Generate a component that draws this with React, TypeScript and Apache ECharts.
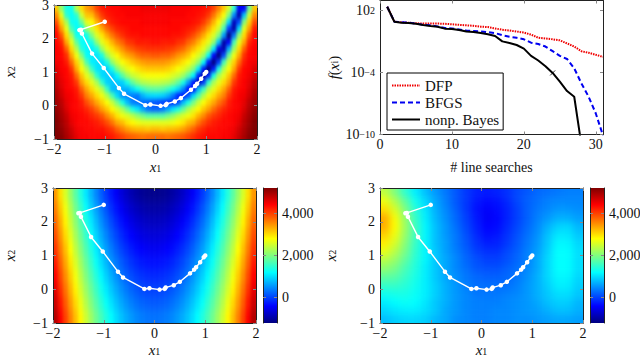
import React, { useEffect, useRef } from "react";
import * as echarts from "echarts";

const FONT = "Liberation Serif";
const jet = ["#00007f","#0000ff","#007fff","#00ffff","#7fff7f","#ffff00","#ff7f00","#ff0000","#7f0000"];

// cell centres of the three colour maps
const xFine = [-1.95,-1.85,-1.75,-1.65,-1.55,-1.45,-1.35,-1.25,-1.15,-1.05,-0.95,-0.85,-0.75,-0.65,-0.55,-0.45,-0.35,-0.25,-0.15,-0.05,0.05,0.15,0.25,0.35,0.45,0.55,0.65,0.75,0.85,0.95,1.05,1.15,1.25,1.35,1.45,1.55,1.65,1.75,1.85,1.95];
const xCoarse = [-1.9,-1.7,-1.5,-1.3,-1.1,-0.9,-0.7,-0.5,-0.3,-0.1,0.1,0.3,0.5,0.7,0.9,1.1,1.3,1.5,1.7,1.9];
const yTop = [-0.9,-0.7,-0.5,-0.3,-0.1,0.1,0.3,0.5,0.7,0.9,1.1,1.3,1.5,1.7,1.9,2.1,2.3,2.5,2.7,2.9];
const yMid = [-0.8,-0.4,0,0.4,0.8,1.2,1.6,2,2.4,2.8];
const yRight = [-0.875,-0.625,-0.375,-0.125,0.125,0.375,0.625,0.875,1.125,1.375,1.625,1.875,2.125,2.375,2.625,2.875];

// top-left: colour level 0..100, rows from y=-1 upward
const topLeft = [
[100,99,96,93,90,88,88,87,87,87,86,85,83,81,79,78,77,76,77,77,77,77,76,77,78,79,81,83,85,86,87,87,87,88,88,90,93,96,99,100],
[100,98,95,92,89,88,87,87,86,86,84,82,78,75,72,70,69,69,68,69,69,68,69,69,70,72,75,78,82,84,86,86,87,87,88,89,92,95,98,100],
[100,97,94,90,88,87,87,86,85,83,80,76,71,69,65,63,61,60,60,60,60,60,60,61,63,65,69,71,76,80,83,85,86,87,87,88,90,94,97,100],
[99,96,93,89,88,87,86,84,82,79,74,70,65,61,59,56,52,49,46,46,46,46,49,52,56,59,61,65,70,74,79,82,84,86,87,88,89,93,96,99],
[98,95,91,88,87,86,84,81,77,72,68,63,59,54,47,40,35,29,24,22,22,24,29,35,40,47,54,59,63,68,72,77,81,84,86,87,88,91,95,98],
[97,94,90,88,87,85,80,76,71,67,62,57,49,40,31,25,24,23,22,21,20,19,18,17,20,31,40,49,57,62,67,71,76,80,85,87,88,90,94,97],
[96,92,89,88,86,82,75,71,66,61,55,45,34,27,26,25,24,30,33,34,34,33,30,24,16,15,21,34,45,55,61,66,71,75,82,86,88,89,92,96],
[95,91,88,87,85,78,71,66,60,55,43,31,30,30,30,34,39,43,46,47,47,46,43,39,34,26,14,12,31,43,55,60,66,71,78,85,87,88,91,95],
[94,90,88,86,82,72,66,60,54,42,33,32,32,33,40,47,52,55,56,57,57,56,55,52,47,40,28,15,5,18,42,54,60,66,72,82,86,88,90,94],
[92,89,87,85,77,68,60,54,42,34,33,32,37,46,53,57,59,61,62,62,62,62,61,59,57,53,46,37,16,3,16,40,54,60,68,77,85,87,89,92],
[91,88,87,82,71,62,55,43,35,34,33,39,50,56,60,62,65,67,68,68,68,68,67,65,62,60,56,50,36,15,0,15,40,55,62,71,82,87,88,91],
[89,88,85,77,67,58,45,36,35,34,40,52,58,62,65,68,70,72,73,73,73,73,72,70,68,65,62,58,52,38,14,0,18,44,58,67,77,85,88,89],
[88,87,83,71,61,50,38,36,35,40,53,59,63,68,71,73,76,78,78,79,79,78,78,76,73,71,68,63,59,53,38,12,0,20,48,61,71,83,87,88],
[88,86,78,66,55,41,37,36,40,53,60,65,69,73,77,79,81,82,83,83,83,83,82,81,79,77,73,69,65,60,53,36,10,5,30,53,66,78,86,88],
[87,84,71,60,47,38,37,40,52,60,65,70,75,78,82,83,85,85,85,86,86,85,85,85,83,82,78,75,70,65,60,52,32,4,12,44,60,71,84,87],
[87,79,66,54,39,38,39,50,59,65,71,76,80,83,85,86,86,87,87,87,87,87,87,86,86,85,83,80,76,71,65,59,50,28,0,24,52,66,79,87],
[85,72,60,44,38,38,52,58,65,71,77,81,84,85,86,87,87,87,87,87,87,87,87,87,87,86,85,84,81,77,71,65,58,44,18,4,34,60,72,85],
[80,67,54,39,38,48,60,63,70,77,82,85,86,87,87,87,87,88,88,88,88,88,88,87,87,87,87,86,85,82,77,70,63,54,34,6,20,50,67,80],
[74,60,42,38,42,58,68,69,76,82,85,86,87,87,88,88,88,88,88,88,88,88,88,88,88,88,87,87,86,85,82,76,69,62,50,26,4,32,58,74],
[68,52,40,39,55,66,72,75,81,85,86,87,87,88,88,88,88,89,89,89,89,89,89,88,88,88,88,87,87,86,85,81,75,68,58,42,12,12,48,68],
];

// bottom-left: values read against the colour bar
const bottomLeft = [
[4883,4427,3995,3587,3203,2843,2507,2195,1907,1643,1403,1187,995,827,683,563,467,395,347,323,323,347,395,467,563,683,827,995,1187,1403,1643,1907,2195,2507,2843,3203,3587,3995,4427,4883],
[4723,4267,3835,3427,3043,2683,2347,2035,1747,1483,1243,1027,835,667,523,403,307,235,187,163,163,187,235,307,403,523,667,835,1027,1243,1483,1747,2035,2347,2683,3043,3427,3835,4267,4723],
[4563,4107,3675,3267,2883,2523,2187,1875,1587,1323,1083,867,675,507,363,243,147,75,27,3,3,27,75,147,243,363,507,675,867,1083,1323,1587,1875,2187,2523,2883,3267,3675,4107,4563],
[4403,3947,3515,3107,2723,2363,2027,1715,1427,1163,923,707,515,347,203,83,-13,-85,-133,-157,-157,-133,-85,-13,83,203,347,515,707,923,1163,1427,1715,2027,2363,2723,3107,3515,3947,4403],
[4243,3787,3355,2947,2563,2203,1867,1555,1267,1003,763,547,355,187,43,-77,-173,-245,-293,-317,-317,-293,-245,-173,-77,43,187,355,547,763,1003,1267,1555,1867,2203,2563,2947,3355,3787,4243],
[4083,3627,3195,2787,2403,2043,1707,1395,1107,843,603,387,195,27,-117,-237,-333,-405,-453,-477,-477,-453,-405,-333,-237,-117,27,195,387,603,843,1107,1395,1707,2043,2403,2787,3195,3627,4083],
[3923,3467,3035,2627,2243,1883,1547,1235,947,683,443,227,35,-133,-277,-397,-493,-565,-613,-637,-637,-613,-565,-493,-397,-277,-133,35,227,443,683,947,1235,1547,1883,2243,2627,3035,3467,3923],
[3763,3307,2875,2467,2083,1723,1387,1075,787,523,283,67,-125,-293,-437,-557,-653,-725,-773,-797,-797,-773,-725,-653,-557,-437,-293,-125,67,283,523,787,1075,1387,1723,2083,2467,2875,3307,3763],
[3603,3147,2715,2307,1923,1563,1227,915,627,363,123,-93,-285,-453,-597,-717,-813,-885,-933,-957,-957,-933,-885,-813,-717,-597,-453,-285,-93,123,363,627,915,1227,1563,1923,2307,2715,3147,3603],
[3443,2987,2555,2147,1763,1403,1067,755,467,203,-37,-253,-445,-613,-757,-877,-973,-1045,-1093,-1117,-1117,-1093,-1045,-973,-877,-757,-613,-445,-253,-37,203,467,755,1067,1403,1763,2147,2555,2987,3443],
];

// bottom-right: estimate
const bottomRight = [
[800,900,950,950,900,750,650,500,450,400,400,450,450,500,500,550,600,650,650,600],
[950,1050,1100,1100,1000,850,650,550,450,400,400,450,450,500,550,600,700,800,800,700],
[1100,1200,1250,1200,1050,850,700,550,450,400,400,400,450,500,550,650,800,900,900,750],
[1300,1350,1350,1250,1100,900,700,550,450,350,350,350,400,450,550,700,850,1000,1000,850],
[1550,1550,1450,1300,1100,900,700,550,400,300,300,300,300,400,550,700,900,1100,1100,900],
[1800,1750,1550,1350,1100,850,650,500,350,250,200,200,250,350,500,700,950,1150,1150,950],
[2100,1950,1650,1400,1100,850,650,450,300,150,100,100,200,300,450,650,950,1200,1200,1000],
[2350,2150,1800,1450,1150,850,650,450,250,100,0,0,100,250,400,650,950,1200,1200,1000],
[2650,2350,1950,1500,1150,850,600,400,200,0,-100,-100,50,200,400,600,900,1200,1200,1000],
[2900,2550,2050,1550,1150,800,600,350,150,-80,-220,-200,-50,150,350,550,850,1150,1150,950],
[3100,2700,2150,1600,1150,800,550,350,100,-150,-320,-280,-100,100,300,500,800,1050,1050,850],
[3300,2800,2200,1600,1150,800,550,300,50,-200,-400,-350,-150,50,250,450,700,900,950,750],
[3300,2750,2150,1550,1100,750,500,250,0,-250,-450,-380,-200,0,200,400,550,700,700,600],
[3000,2550,2000,1450,1050,700,450,200,-50,-300,-420,-350,-200,0,200,350,450,550,550,500],
[2700,2300,1800,1300,950,650,400,150,-50,-250,-350,-300,-150,50,200,300,400,450,450,450],
[2400,2000,1500,1100,800,550,350,150,-50,-200,-250,-200,-100,50,150,250,300,350,400,400],
];

// optimiser path
const pathX = [-1,-1.5,-1.47,-1.45,-1.25,-1.02,-0.72,-0.62,-0.2,-0.1,0.1,0.2,0.22,0.38,0.5,0.7,0.78,0.82,0.9,0.97,1];
const pathY = [2.5,2.25,2.26,2.15,1.55,1.12,0.52,0.35,0.01,0.03,-0.01,0.01,0.05,0.12,0.22,0.47,0.58,0.65,0.8,0.95,1];

// top-right: decades of f(x_i) per line search
const searches = [1,2,3,4,5,6,7,8,9,10,11,12,13,14,15,16,17,18,19,20,21,22,23,24,25,26,27,28,29,30,31];
const dfpExp = [2.35,0.9,0.85,0.8,0.75,0.72,0.72,0.72,0.7,0.65,0.6,0.55,0.5,0.42,0.38,0.25,0.12,0.05,-0.05,-0.15,-0.35,-0.65,-0.72,-0.8,-0.9,-1.2,-1.5,-1.95,-2.1,-2.3,-2.5];
const bfgsExp = [2.35,0.9,0.85,0.8,0.72,0.6,0.55,0.45,0.3,0.25,0.15,0.05,0,-0.05,-0.1,-0.2,-0.4,-0.55,-0.65,-0.8,-1.13,-1.25,-1.5,-1.95,-2.4,-2.7,-3.6,-5.06,-6.35,-7.97,-10.1];
const bayesExp = [2.35,0.9,0.8,0.77,0.7,0.58,0.48,0.42,0.23,0.2,0.1,-0.05,-0.1,-0.2,-0.32,-0.48,-1,-1.16,-1.35,-1.7,-2.4,-2.85,-3.4,-4.05,-4.9,-5.8,-6.35,-11,-11,-11,-11];
const crossAt = [24];
const crossExp = [-4.05];

const spatialTicks = [-2, -1, 0, 1, 2];
const yTicks = [-1, 0, 1, 2, 3];
const searchTicks = [0, 10, 20, 30];
const decadeTicks = [-10, -4, 2];
const barTicks = [0, 2000, 4000];
const barMin = -1198;
const barMax = 5202;

const rich = {
  i: { fontFamily: FONT, fontStyle: "italic", fontSize: 15, lineHeight: 12, color: "#111" },
  s: { fontFamily: FONT, fontSize: 10, lineHeight: 12, color: "#111", verticalAlign: "bottom" },
  n: { fontFamily: FONT, fontSize: 15, lineHeight: 12, color: "#111" },
};
const tickRich = {
  b: { fontFamily: FONT, fontSize: 14, color: "#111" },
  e: { fontFamily: FONT, fontSize: 10, color: "#111", verticalAlign: "top", padding: [0, 0, 5, 0] },
};
const minus = (v: number) => String(v).replace("-", "\u2212");
const tick = { show: true, inside: true, length: 3, lineStyle: { color: "#888", width: 1 } };
const frameLine = { show: true, onZero: false, lineStyle: { color: "#222", width: 1 } };
const label = { fontFamily: FONT, fontSize: 14, lineHeight: 10, color: "#111", margin: 5 };

const PAD = 2;
const SHIFT = 30;
const panels = [
  { id: "heatA", rows: topLeft, xs: xFine, ys: yTop, l: 54, t: 5, w: 203, h: 134, min: 0, max: 100, sx: 1.4, sy: 2.2 },
  { id: "heatB", rows: bottomLeft, xs: xFine, ys: yMid, l: 53, t: 188, w: 203, h: 135, min: barMin, max: barMax, sx: 1.5, sy: 4.5 },
  { id: "heatC", rows: bottomRight, xs: xCoarse, ys: yRight, l: 380, t: 188, w: 203, h: 135, min: barMin, max: barMax, sx: 3.6, sy: 3 },
];

function heatOption(p: (typeof panels)[number]) {
  const cw = p.w / p.xs.length;
  const ch = p.h / p.ys.length;
  const ni = p.xs.length + PAD * 2;
  const nj = p.ys.length + PAD * 2;
  const data: number[][] = [];
  // cells past the panel edge only keep the soft edge from fading; the clip hides them
  for (let j = 0; j < nj; j++) {
    for (let i = 0; i < ni; i++) {
      const cj = Math.min(p.ys.length - 1, Math.max(0, j - PAD));
      const ci = Math.min(p.xs.length - 1, Math.max(0, i - PAD));
      data.push([i, j, p.rows[cj][ci]]);
    }
  }
  const cats = (n: number) => Array.from({ length: n }, (_, k) => String(k));
  return {
    animation: false,
    grid: { outerBoundsMode: "none", left: p.l + SHIFT - PAD * cw, top: p.t + SHIFT - PAD * ch, width: p.w + 2 * PAD * cw, height: p.h + 2 * PAD * ch },
    xAxis: { type: "category", data: cats(ni), show: false },
    yAxis: { type: "category", data: cats(nj), show: false },
    visualMap: { type: "continuous", show: false, min: p.min, max: p.max, dimension: 2, inRange: { color: jet } },
    series: [{ type: "heatmap", data, silent: true, progressive: 0, itemStyle: { borderWidth: 0 }, emphasis: { disabled: true } }],
  };
}

function App() {
  const ref = useRef<HTMLDivElement>(null);
  const heatRefs = useRef<(HTMLDivElement | null)[]>([]);
  useEffect(() => {
    const heatCharts = panels.map((p, k) => {
      const c = echarts.init(heatRefs.current[k]!, null, { renderer: "svg" });
      c.setOption(heatOption(p));
      return c;
    });
    const chart = echarts.init(ref.current!, null, { renderer: "svg" });
    const grids = [
      { left: 54, top: 5, width: 203, height: 134 },
      { left: 380, top: 0.5, width: 223, height: 134 },
      { left: 53, top: 188, width: 203, height: 135 },
      { left: 380, top: 188, width: 203, height: 135 },
      { left: 263, top: 188, width: 14, height: 135 },
      { left: 590, top: 188, width: 14, height: 135 },
    ].map((g) => ({ ...g, outerBoundsMode: "none" }));
    const xAxis: any[] = [];
    const yAxis: any[] = [];
    const spatial = (gi: number, xGap: number, yGap: number) => {
      const axIdx = xAxis.length;
      xAxis.push({ type: "value", gridIndex: gi, min: -2, max: 2, interval: 1, position: "bottom", z: 5, splitLine: { show: false }, axisLine: frameLine, axisTick: tick,
        axisLabel: { ...label, formatter: (v: number) => minus(v), customValues: spatialTicks },
        name: "{i|x}{s|1}", nameLocation: "middle", nameGap: xGap, nameTextStyle: { rich } });
      xAxis.push({ type: "value", gridIndex: gi, min: -2, max: 2, interval: 1, position: "top", z: 5, splitLine: { show: false }, axisLine: frameLine, axisTick: tick, axisLabel: { show: false } });
      yAxis.push({ type: "value", gridIndex: gi, min: -1, max: 3, interval: 1, position: "left", z: 5, splitLine: { show: false }, axisLine: frameLine, axisTick: tick,
        axisLabel: { ...label, padding: gi === 0 ? [5, 0, 0, 0] : 0, formatter: (v: number) => minus(v), customValues: yTicks },
        name: "{i|x}{s|2}", nameLocation: "middle", nameGap: yGap, nameRotate: 90, nameTextStyle: { rich } });
      yAxis.push({ type: "value", gridIndex: gi, min: -1, max: 3, interval: 1, position: "right", z: 5, splitLine: { show: false }, axisLine: frameLine, axisTick: tick, axisLabel: { show: false } });
      return axIdx;
    };
    const series: any[] = [];
    const pathPts = pathX.map((x, i) => [x, pathY[i]]);
    const addPath = (ax: number) => series.push({
      type: "line", xAxisIndex: ax, yAxisIndex: ax, data: pathPts, symbol: "circle", symbolSize: 4.5, silent: true, z: 6,
      lineStyle: { color: "#fff", width: 1.4 }, itemStyle: { color: "#fff" },
    });

    addPath(spatial(0, 22, 38));

    const aTR = xAxis.length;
    xAxis.push({ type: "value", gridIndex: 1, min: 0, max: 31, position: "bottom", z: 5, splitLine: { show: false }, axisLine: frameLine,
      axisTick: { ...tick, customValues: searchTicks }, axisLabel: { ...label, customValues: searchTicks },
      name: "# line searches", nameLocation: "middle", nameGap: 26, nameTextStyle: { fontFamily: FONT, fontSize: 14, color: "#111" } });
    xAxis.push({ type: "value", gridIndex: 1, min: 0, max: 31, position: "top", z: 5, splitLine: { show: false }, axisLine: frameLine,
      axisTick: { ...tick, customValues: searchTicks }, axisLabel: { show: false } });
    const decadeVals = decadeTicks.map((e) => 10 ** e);
    yAxis.push({ type: "log", logBase: 10, gridIndex: 1, min: 1e-10, max: 10 ** 2.95, position: "left", z: 5, splitLine: { show: false }, minorTick: { show: false }, axisLine: frameLine,
      axisTick: { ...tick, customValues: decadeVals },
      axisLabel: { ...label, customValues: decadeVals, rich: tickRich,
        formatter: (v: number) => `{b|10}{e|${minus(Math.round(Math.log10(v)))}}` },
      name: "{i|f}{n|(}{i|x}{s|i}{n|)}", nameLocation: "middle", nameGap: 38, nameRotate: 90, nameTextStyle: { rich } });
    yAxis.push({ type: "log", logBase: 10, gridIndex: 1, min: 1e-10, max: 10 ** 2.95, position: "right", z: 5, splitLine: { show: false }, axisLine: frameLine,
      axisTick: { ...tick, customValues: decadeVals }, axisLabel: { show: false } });
    const toPts = (exps: number[]) => searches.map((s, i) => [s, 10 ** exps[i]]);
    const lineS = (name: string, exps: number[], color: string, type: any) => ({
      type: "line", name, xAxisIndex: aTR, yAxisIndex: aTR, data: toPts(exps), symbol: "none", silent: true, clip: true, z: 3,
      lineStyle: { color, width: 2, type }, itemStyle: { color },
    });
    series.push(lineS("DFP", dfpExp, "#f00000", [1.5, 1]));
    series.push(lineS("BFGS", bfgsExp, "#0000f0", [5, 3]));
    series.push(lineS("nonp. Bayes", bayesExp, "#000", "solid"));
    series.push({ type: "scatter", name: "mark", xAxisIndex: aTR, yAxisIndex: aTR, data: crossAt.map((x, i) => [x, 10 ** crossExp[i]]), symbol: "path://M0 0L10 10M10 0L0 10", symbolSize: 5, silent: true, z: 4,
      itemStyle: { color: "transparent", borderColor: "#000", borderWidth: 1 } });

    addPath(spatial(2, 21, 37));
    addPath(spatial(3, 21, 43));

    [4, 5].forEach((gi) => {
      xAxis.push({ type: "value", gridIndex: gi, min: 0, max: 1, show: false });
      xAxis.push({ type: "value", gridIndex: gi, min: 0, max: 1, show: false });
      yAxis.push({ type: "value", gridIndex: gi, min: barMin, max: barMax, position: "right", z: 5, splitLine: { show: false }, axisLine: frameLine,
        axisTick: { ...tick, customValues: barTicks },
        axisLabel: { ...label, customValues: barTicks, formatter: (v: number) => v.toLocaleString("en-US") } });
      yAxis.push({ type: "value", gridIndex: gi, min: barMin, max: barMax, position: "left", z: 5, splitLine: { show: false }, axisLine: frameLine,
        axisTick: { ...tick, customValues: barTicks }, axisLabel: { show: false } });
    });

    const stops = jet.map((color, i) => ({ offset: i / (jet.length - 1), color }));
    const bar = (x: number) => ({
      type: "rect", z: 1, shape: { x, y: 188, width: 14, height: 135 },
      style: { fill: new echarts.graphic.LinearGradient(0, 1, 0, 0, stops) }, silent: true,
    });

    chart.setOption({
      animation: false,
      backgroundColor: "transparent",
      grid: grids,
      xAxis, yAxis, series,
      graphic: [bar(263), bar(590)],
      legend: {
        data: ["DFP", "BFGS", "nonp. Bayes"], orient: "vertical", left: 387, top: 73, padding: [5, 4, 3, 4], itemGap: 2, itemWidth: 28, itemHeight: 15,
        backgroundColor: "#fff", borderColor: "#000", borderWidth: 1, z: 10, itemStyle: { opacity: 0 },
        textStyle: { fontFamily: FONT, fontSize: 15, color: "#111" }, selectedMode: false,
      },
    });
    return () => { chart.dispose(); heatCharts.forEach((c) => c.dispose()); };
  }, []);
  const full: React.CSSProperties = { position: "absolute", left: 0, top: 0, width: 640, height: 357 };
  return (
    <div style={{ ...full, overflow: "hidden", background: "#fff" }}>
      <svg width={0} height={0} style={{ position: "absolute" }}>
        <defs>
          {panels.map((p) => (
            <filter key={p.id} id={p.id} x="-10%" y="-10%" width="120%" height="120%" colorInterpolationFilters="sRGB">
              <feGaussianBlur stdDeviation={`${p.sx} ${p.sy}`} />
            </filter>
          ))}
        </defs>
      </svg>
      {panels.map((p, k) => (
        <div key={p.id} style={{ ...full, clipPath: `inset(${p.t}px ${640 - p.l - p.w}px ${357 - p.t - p.h}px ${p.l}px)` }}>
          <div
            ref={(el) => { heatRefs.current[k] = el; }}
            style={{ position: "absolute", left: -SHIFT, top: -SHIFT, width: 640 + 2 * SHIFT, height: 357 + 2 * SHIFT, filter: `url(#${p.id})` }}
          />
        </div>
      ))}
      <div ref={ref} style={full} />
    </div>
  );
}

export default App;
